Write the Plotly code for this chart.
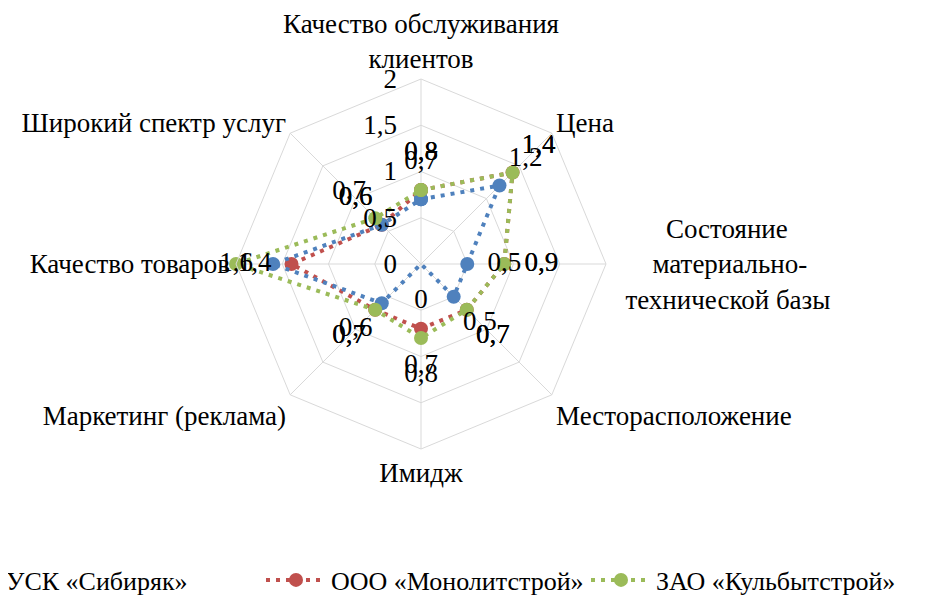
import plotly.graph_objects as go

NB = "\u00a0"
categories = [
    "Качество обслуживания<br>клиентов",
    "Цена",
    NB * 8 + "Состояние<br>" + NB * 6 + "материально-<br>" + NB * 2 + "технической базы",
    "Месторасположение",
    "Имидж",
    "Маркетинг (реклама)",
    "Качество товаров",
    "Широкий спектр услуг",
]

sibiryak = [0.7, 1.2, 0.5, 0.5, 0.0, 0.6, 1.6, 0.6]
monolit = [0.8, 1.4, 0.9, 0.7, 0.7, 0.7, 1.4, 0.6]
kulbyt = [0.8, 1.4, 0.9, 0.7, 0.8, 0.7, 2.0, 0.7]

radial_ticks = [0, 0.5, 1, 1.5, 2]
radial_tick_text = ["0", "0,5", "1", "1,5", "2"]

series = [
    ("ООО «Монолитстрой»", monolit, "#C0504D", 2),
    ("УСК «Сибиряк»", sibiryak, "#4F81BD", 1),
    ("ЗАО «Кульбытстрой»", kulbyt, "#9BBB59", 3),
]

FONT = "Liberation Serif"
FS = 27
LABEL_OFFSET = 0.4


def fmt(v):
    return ("%g" % v).replace(".", ",")


fig = go.Figure()
for name, vals, color, rank in series:
    fig.add_trace(go.Scatterpolar(
        r=vals + vals[:1],
        theta=categories + categories[:1],
        mode="lines+markers",
        name=name,
        legendrank=rank,
        line=dict(color=color, width=4, dash="4px,6px"),
        marker=dict(color=color, size=14),
    ))

for name, vals, color, rank in series:
    fig.add_trace(go.Scatterpolar(
        r=[v + LABEL_OFFSET for v in vals],
        theta=categories,
        mode="text",
        text=[fmt(v) for v in vals],
        textfont=dict(family=FONT, size=FS, color="black"),
        showlegend=False,
        cliponaxis=False,
        hoverinfo="skip",
    ))

# the figure is wider than the window so that the legend runs off the right edge
W, H = 1000, 596
B = 40
PH = H - B
# page body adds an 8px offset; positions below are in figure pixels
cx, cy, R = 413, 256, 185

fig.update_layout(
    width=W, height=H,
    margin=dict(l=0, r=0, t=0, b=B, autoexpand=False),
    paper_bgcolor="white",
    plot_bgcolor="white",
    separators=", ",
    font=dict(family=FONT, size=FS, color="black"),
    polar=dict(
        domain=dict(x=[(cx - R) / W, (cx + R) / W],
                    y=[(PH - cy - R) / PH, (PH - cy + R) / PH]),
        gridshape="linear",
        bgcolor="white",
        radialaxis=dict(
            range=[0, 2],
            tickvals=radial_ticks,
            ticktext=radial_tick_text,
            angle=90,
            tickangle=90,
            side="counterclockwise",
            showline=False,
            ticks="outside",
            ticklen=14,
            tickcolor="rgba(0,0,0,0)",
            gridcolor="#D9D9D9",
            gridwidth=1,
            tickfont=dict(family=FONT, size=FS, color="black"),
        ),
        angularaxis=dict(
            direction="clockwise",
            rotation=90,
            gridcolor="#D9D9D9",
            linecolor="#D9D9D9",
            showline=True,
            ticks="",
            tickfont=dict(family=FONT, size=FS, color="black"),
        ),
    ),
    legend=dict(
        orientation="h",
        x=-72 / W, xanchor="left",
        y=-16 / PH, yanchor="middle",
        itemwidth=60,
        entrywidth=250,
        entrywidthmode="pixels",
        font=dict(family=FONT, size=26, color="black"),
        bgcolor="rgba(0,0,0,0)",
    ),
)

fig.write_html("out.html")
